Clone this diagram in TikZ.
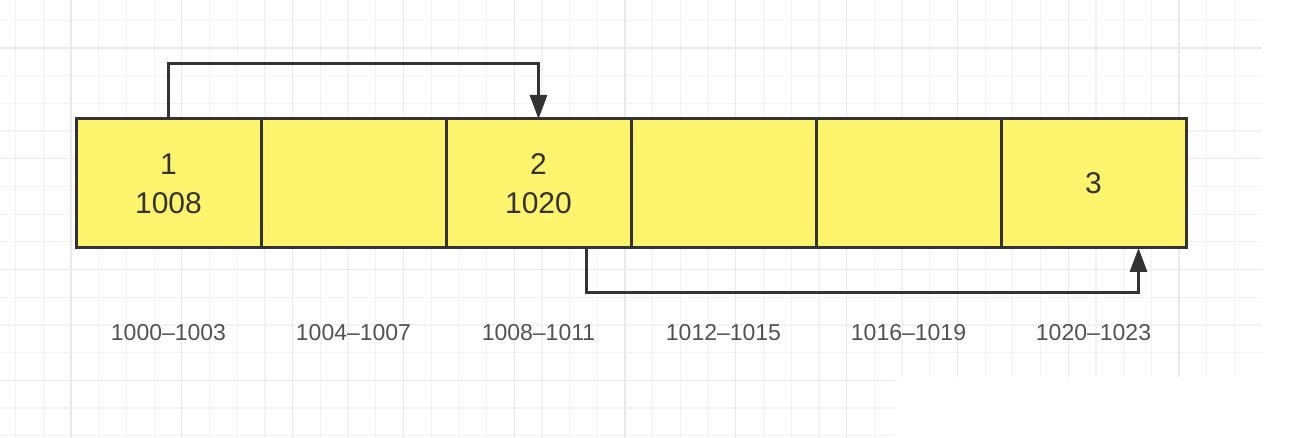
\documentclass[tikz,border=0pt]{standalone}
\usepackage{xcolor}
\usepackage{fontspec}
\setmainfont{Liberation Sans}
\usepackage{tikz}
\usetikzlibrary{arrows.meta, positioning}

\definecolor{cellyellow}{RGB}{255,244,110}
\definecolor{edgegray}{RGB}{51,51,51}
\definecolor{gridminor}{RGB}{242,242,242}
\definecolor{gridmajor}{RGB}{233,233,233}

\begin{document}
\begin{tikzpicture}[
    x=1pt, y=1pt,
    cell/.style={rectangle, draw=edgegray, line width=3pt, outer sep=0pt, inner sep=0pt, minimum width=185pt, minimum height=129pt, fill=cellyellow, align=center, text=edgegray, font=\fontsize{30}{39}\selectfont},
    addr/.style={text=black!68, font=\fontsize{23}{28}\selectfont},
    link/.style={draw=edgegray, line width=3pt, -{Triangle[length=24pt, width=17pt]}}
]

% Background grid
\fill[white] (0,0) rectangle (1296,438);
\useasboundingbox (0,0) rectangle (1296,438);
\begin{scope}
\clip (0,0) rectangle (1262,438);
\draw[gridminor, line width=1.2pt, shift={(15.6,2.2)}, step=27.7] (-40,-40) grid (1300,460);
\draw[gridmajor, line width=1.3pt, shift={(71,57.6)}, step=110.8] (-120,-120) grid (1300,460);
\fill[white] (895,0) rectangle (1262,61);
\end{scope}

% Memory cells
\node[cell] (c1) at (168.5,254.5) {1\\1008};
\node[cell, right=0pt of c1] (c2) {};
\node[cell, right=0pt of c2] (c3) {2\\1020};
\node[cell, right=0pt of c3] (c4) {};
\node[cell, right=0pt of c4] (c5) {};
\node[cell, right=0pt of c5] (c6) {3};

% Addresses
\node[addr] (a1) at (c1 |- 0,105) {1000--1003};
\node[addr] (a2) at (c2 |- 0,105) {1004--1007};
\node[addr] (a3) at (c3 |- 0,105) {1008--1011};
\node[addr] (a4) at (c4 |- 0,105) {1012--1015};
\node[addr] (a5) at (c5 |- 0,105) {1016--1019};
\node[addr] (a6) at (c6 |- 0,105) {1020--1023};

% Links
\draw[link] (c1.north) -- ++(0,55) -| (c3.north);
\draw[link] ([xshift=48pt]c3.south) -- ++(0,-45) -| ([xshift=45pt]c6.south);

\end{tikzpicture}
\end{document}
